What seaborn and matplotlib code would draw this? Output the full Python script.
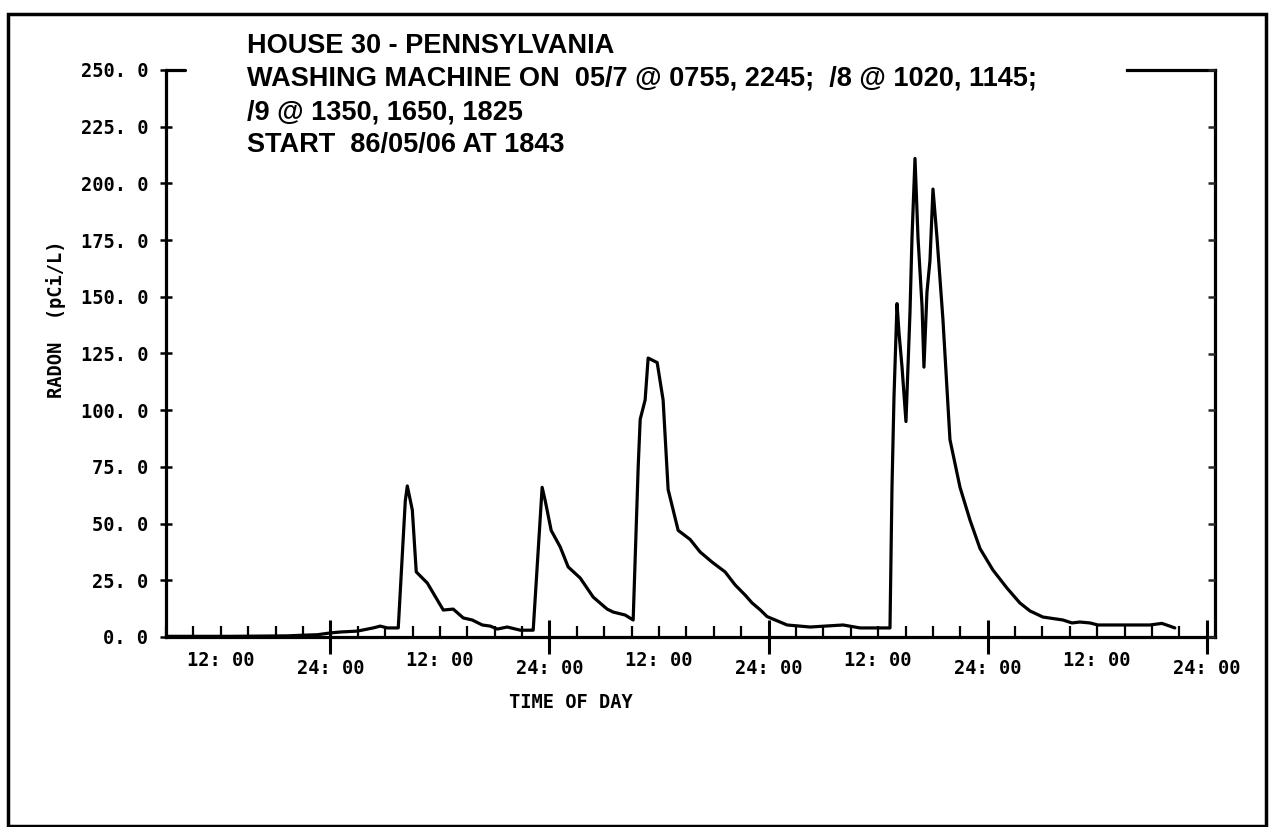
import numpy as np
import pandas as pd
import seaborn as sns
import matplotlib.pyplot as plt
from matplotlib.ticker import FixedLocator, MultipleLocator, FuncFormatter
from matplotlib.patches import Rectangle

sns.set_theme(style="ticks")
plt.rcParams['font.family'] = ['DejaVu Sans Mono', 'DejaVu Sans']
plt.rcParams['text.color'] = 'black'
plt.rcParams['axes.labelcolor'] = 'black'

# hours since 86/05/06 00:00, radon in pCi/L
hours = [6.05, 13.05, 19.3, 21.04, 22.58, 24.0, 25.1, 26.96, 28.7, 29.47, 30.24, 31.44,
         32.21, 32.43, 32.98, 33.41, 34.62, 36.37, 37.46, 38.56, 39.54, 40.64, 41.52,
         42.28, 43.38, 44.8, 46.11,
         46.22, 47.2, 47.54, 48.19, 49.18, 50.05, 51.37, 52.79, 54.32, 54.98, 56.29, 57.17,
         57.72, 57.94, 58.48, 58.81, 59.8, 60.45, 61.0, 62.1, 63.41, 64.5, 65.82, 67.24,
         68.33, 69.43, 70.2, 71.08, 71.84, 74.03, 76.55, 80.16, 82.02, 84.97,
         85.3, 85.52, 85.74, 86.07, 86.29, 86.62, 87.05, 87.49, 87.71, 88.04, 88.37, 88.81,
         89.02, 89.35, 89.68, 90.01, 90.45, 91.1, 91.87, 92.97, 94.06, 95.16, 96.58, 98.11,
         99.53, 100.63, 102.05, 104.24, 105.23, 106.1, 107.2, 108.07, 113.77, 115.08,
         115.95, 116.5]
radon = [0.3, 0.3, 0.5, 0.8, 1.0, 1.8, 2.2, 2.6, 4.0, 4.8, 4.0, 4.0,
         60, 66.6, 56, 28.7, 23.8, 11.9, 12.3, 8.4, 7.5, 5.3, 4.8,
         3.5, 4.4, 3.0, 3.0,
         3.0, 66, 60, 47, 39.7, 30.9, 26, 17.6, 12.3, 11, 9.7, 7.5,
         75, 96, 104.5, 123, 121, 104.5, 65, 47, 43, 37.5, 33, 28.7,
         23, 18.5, 15, 12, 9, 5.3, 4.4, 5.3, 4.0, 4.0,
         4.0, 66, 106, 147, 134, 119, 95, 143, 176, 211, 176, 146,
         119, 152, 166, 197.5, 176, 140, 87, 66, 51.6, 39, 29.5, 21.6,
         15, 11.5, 8.8, 7.5, 6.2, 6.6, 6.2, 5.3, 5.3, 6.0,
         4.8, 4.0]

title_lines = ["HOUSE 30 - PENNSYLVANIA",
               "WASHING MACHINE ON  05/7 @ 0755, 2245;  /8 @ 1020, 1145;",
               "/9 @ 1350, 1650, 1825",
               "START  86/05/06 AT 1843"]
y_ticks = np.arange(0, 251, 25)
day_ends = [24, 48, 72, 96, 120]

df = pd.DataFrame({"hour": hours, "radon": radon})

W, H = 1270, 827
fig = plt.figure(figsize=(12.7, 8.27), dpi=100)
ax = fig.add_axes([166 / W, 1 - 637 / H, 1049 / W, 567 / H])
sns.lineplot(data=df, x="hour", y="radon", ax=ax, color="black", lw=2.3, sort=False)

ax.set_xlim(6, 120.9)
ax.set_ylim(0, 250)

for s in ax.spines.values():
    s.set_linewidth(2.3)
    s.set_color("black")
ax.spines["top"].set_bounds(111.3, 120.9)
ax.axhline(250, xmax=19 / 1049, color="black", lw=2.3, clip_on=False)

# y axis
ax.set_yticks(y_ticks)
ax.set_yticklabels([f"{v:.1f}".replace(".", ". ") for v in y_ticks])
ax.tick_params(axis="y", direction="inout", length=8.6, width=1.8, pad=8.5,
               labelsize=13.5, colors="black")
for lab in ax.get_yticklabels():
    lab.set_fontweight("bold")

# right side ticks
ax2 = ax.twinx()
ax2.set_ylim(0, 250)
ax2.set_yticks(y_ticks)
ax2.tick_params(axis="y", direction="in", length=5, width=1.8, labelright=False)
for s in ax2.spines.values():
    s.set_visible(False)

# x axis
ax.xaxis.set_major_locator(FixedLocator(day_ends))
ax.xaxis.set_major_formatter(FuncFormatter(lambda h, p: "24: 00"))
ax.xaxis.set_minor_locator(MultipleLocator(3))
ax.xaxis.set_minor_formatter(FuncFormatter(
    lambda h, p: "12: 00" if abs(h % 24 - 12) < 0.01 else ""))
ax.tick_params(axis="x", which="major", direction="inout", length=25, width=2.2,
               pad=3, labelsize=13.5, colors="black")
ax.tick_params(axis="x", which="minor", direction="in", length=8, width=1.6,
               pad=10, labelsize=13.5, colors="black", bottom=True)
for lab in ax.get_xticklabels(which="both"):
    lab.set_fontweight("bold")

ax.set_xlabel("TIME OF DAY", fontsize=13.5, fontweight="bold")
ax.xaxis.set_label_coords((571 - 166) / 1049, -0.099)
ax.set_ylabel("RADON  (pCi/L)", fontsize=13.5, fontweight="bold")
ax.yaxis.set_label_coords(-0.095, 0.56)

for i, line in enumerate(title_lines):
    fig.text(247 / W, 1 - (46 + 33 * i) / H, line, ha="left", va="center",
             fontsize=19.5, fontweight="bold", color="black",
             family=["Liberation Sans Narrow", "Liberation Sans", "DejaVu Sans"])

fig.add_artist(Rectangle((8 / W, 1 / H), 1258 / W, 812 / H, transform=fig.transFigure,
                         fill=False, lw=2.5, ec="black"))

fig.savefig("out.png", dpi=100)
